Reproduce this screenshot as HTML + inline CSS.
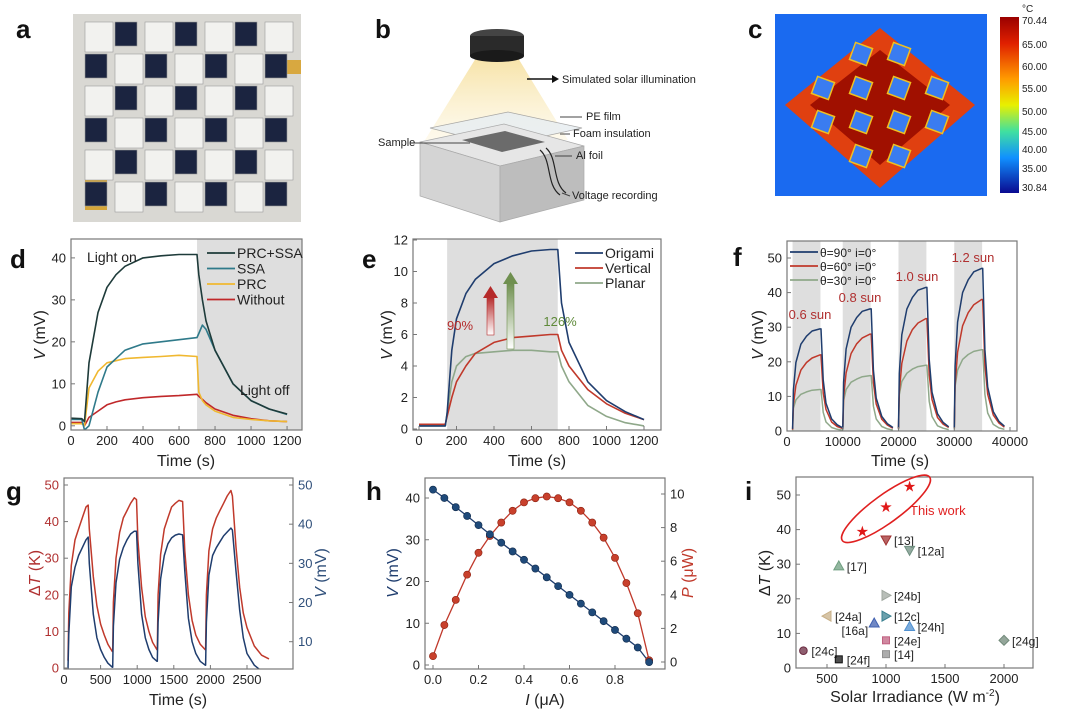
<!DOCTYPE html>
<html><head><meta charset="utf-8"><style>
html,body{margin:0;padding:0;background:#fff;}
svg{display:block;font-family:"Liberation Sans",Arial,sans-serif;}
</style></head><body>
<svg id="fig" width="1080" height="713" viewBox="0 0 1080 713" xmlns="http://www.w3.org/2000/svg">
<defs>
<linearGradient id="cone" x1="0" y1="0" x2="0" y2="1"><stop offset="0" stop-color="#f7e3a8"/><stop offset="1" stop-color="#fdf6e0" stop-opacity="0.6"/></linearGradient>
<linearGradient id="cbar" x1="0" y1="0" x2="0" y2="1"><stop offset="0" stop-color="#9a0000"/><stop offset="0.15" stop-color="#e02000"/><stop offset="0.35" stop-color="#ff9a00"/><stop offset="0.5" stop-color="#e8f000"/><stop offset="0.65" stop-color="#40e0a0"/><stop offset="0.8" stop-color="#1090ff"/><stop offset="1" stop-color="#0a0a90"/></linearGradient>
<linearGradient id="redArr" x1="0" y1="0" x2="0" y2="1"><stop offset="0" stop-color="#b52a2a"/><stop offset="1" stop-color="#fff"/></linearGradient>
<linearGradient id="grnArr" x1="0" y1="0" x2="0" y2="1"><stop offset="0" stop-color="#6f8f4f"/><stop offset="1" stop-color="#fff"/></linearGradient>
</defs>

<!-- panel labels -->
<g font-weight="bold" font-size="26" fill="#111">
<text x="16" y="38">a</text>
<text x="375" y="38">b</text>
<text x="748" y="38">c</text>
<text x="10" y="268">d</text>
<text x="362" y="268">e</text>
<text x="733" y="266">f</text>
<text x="6" y="500">g</text>
<text x="366" y="500">h</text>
<text x="745" y="500">i</text>
</g>

<!-- panel a photo -->
<g>
<rect x="73" y="14" width="228" height="208" fill="#d9d8d3"/>
<rect x="285" y="60" width="16" height="14" fill="#d8a840"/>
<rect x="85" y="180" width="22" height="30" fill="#d4a53a"/>
<g id="origami"></g>
</g>

<!-- panel b schematic -->
<g font-size="11" fill="#222">
<polygon points="476,58 518,58 568,140 425,140" fill="url(#cone)"/>
<ellipse cx="497" cy="36" rx="27" ry="7" fill="#444"/>
<rect x="470" y="36" width="54" height="20" fill="#2a2a2a"/>
<ellipse cx="497" cy="56" rx="27" ry="6" fill="#1a1a1a"/>
<line x1="527" y1="79" x2="552" y2="79" stroke="#111" stroke-width="1.5"/>
<polygon points="552,75 559,79 552,83" fill="#111"/>
<text x="562" y="83">Simulated solar illumination</text>
<polygon points="430,128 508,112 582,128 500,146" fill="#e8eef2" stroke="#999" stroke-width="0.7" opacity="0.85"/>
<polygon points="420,142 504,124 584,146 500,166" fill="#e6e6e6" stroke="#aaa" stroke-width="0.7"/>
<polygon points="420,142 500,166 500,222 420,196" fill="#d4d4d4" stroke="#aaa" stroke-width="0.7"/>
<polygon points="500,166 584,146 584,200 500,222" fill="#bdbdbd" stroke="#aaa" stroke-width="0.7"/>
<polygon points="462,140 505,131 545,142 502,152" fill="#6b6b6b"/>
<path d="M540,150 C552,160 546,185 560,195" stroke="#222" fill="none" stroke-width="1.2"/>
<path d="M546,148 C558,158 552,183 566,193" stroke="#222" fill="none" stroke-width="1.2"/>
<line x1="560" y1="117" x2="582" y2="117" stroke="#444"/><text x="586" y="120">PE film</text>
<line x1="560" y1="134" x2="570" y2="134" stroke="#444"/><text x="573" y="137">Foam insulation</text>
<line x1="410" y1="143" x2="470" y2="143" stroke="#444"/><text x="378" y="146">Sample</text>
<line x1="555" y1="156" x2="572" y2="156" stroke="#444"/><text x="576" y="159">Al foil</text>
<line x1="562" y1="193" x2="570" y2="196" stroke="#444"/><text x="572" y="199">Voltage recording</text>
</g>

<!-- panel c thermal -->
<g>
<rect x="775" y="14" width="212" height="182" fill="#1a6af0"/>
<g id="thermal"></g>
<rect x="1000" y="17" width="19" height="176" fill="url(#cbar)"/>
<g font-size="10" fill="#222">
<text x="1022" y="12">°C</text>
<text x="1022" y="24">70.44</text><text x="1022" y="48">65.00</text><text x="1022" y="70">60.00</text>
<text x="1022" y="92">55.00</text><text x="1022" y="115">50.00</text><text x="1022" y="135">45.00</text>
<text x="1022" y="153">40.00</text><text x="1022" y="172">35.00</text><text x="1022" y="191">30.84</text>
</g>
</g>
<g id="charts"></g>
</svg>
<script>
// ---------- data: panel d ----------
const dTime=[0,60,75,100,150,200,250,300,400,500,600,700,710,730,750,800,900,1000,1100,1200];
const dPrcSsa=[1.8,1.7,1,15,27,33,36,38,40,40.5,40.8,40.8,36,30,25,18,10,6,4,2.8];
const dSsa=[1.5,1.5,-1,0,8,14,16,18,19.5,20,20.5,21,22,24,23,18,10,6,4,2.7];
const dPrc=[0.5,0.5,0,9,13,15,15.5,16,16.3,16.5,16.8,16.5,8,6,5,3.5,2,1.5,1.2,1];
const dWithout=[0.8,0.8,0,2,3.5,5,5.7,6.2,6.7,7,7.2,7.5,7,6.3,5.5,4,2.5,1.7,1.2,1];
// ---------- data: panel e ----------
const eTime=[0,140,150,175,200,250,300,400,500,600,700,740,760,800,900,1000,1100,1200];
const eOrigami=[0.2,0.2,1,5,7,8.6,9.5,10.5,11,11.3,11.4,11.4,8,5.5,3,1.8,1.1,0.6];
const eVertical=[0.3,0.3,0.8,2,3,4,4.8,5.5,5.8,5.9,6,6,5,4,2.5,1.6,1,0.6];
const ePlanar=[0.2,0.2,1,3,4,4.6,4.8,4.9,5,5,4.9,4.9,4,3,1.5,0.8,0.4,0.2];
// ---------- data: panel f ----------
const fCycleStart=[1000,10000,20000,30000];
const fOffset=[0,150,600,1500,2500,3500,4900,5100,5500,6000,7000,8000,9000];
const f90=[[0.6,11.8,19.8,25.1,27.4,28.9,29.5,29.5,14.8,8,3.5,1.8,0.9],[0.7,14.1,23.7,30,32.8,34.6,35.3,35.3,17.6,9.5,4.2,2.1,1.0],[0.8,16.6,27.8,35.3,38.6,40.7,41.5,41.5,20.7,11.2,5,2.5,1.2],[0.9,18.8,31.5,40,43.7,46,47,47,23.5,12.7,5.6,2.8,1.4]];
const f60=[[0.4,7.7,13.2,17.6,19.8,21.1,22,22,11,6.2,2.6,1.3,0.7],[0.6,9.8,16.8,22.4,25.2,26.9,28,28,14,7.8,3.4,1.7,0.8],[0.7,11.4,19.5,26,29.3,31.2,32.5,32.5,16.3,9.1,3.9,2,1],[0.8,13.3,22.8,30.4,34.2,36.5,38,38,19,10.6,4.6,2.3,1.1]];
const f30=[[0.2,6.6,9,10.6,11.3,11.8,12,12,5.4,2.6,1,0.5,0.2],[0.3,8.8,12,14.1,15,15.7,16,16,7.2,3.5,1.3,0.6,0.3],[0.4,10.5,14.3,16.7,17.9,18.6,19,19,8.6,4.2,1.5,0.8,0.4],[0.5,12.9,17.6,20.7,22.1,23,23.5,23.5,10.6,5.2,1.9,0.9,0.5]];
const fSunLabels=['0.6 sun','0.8 sun','1.0 sun','1.2 sun'];
// ---------- data: panel g ----------
const gTime=[55,65,100,150,200,250,300,330,345,400,450,500,550,600,660, 665,675,710,760,810,860,910,960,990,1010,1060,1110,1160,1210,1270, 1275,1285,1320,1370,1420,1470,1520,1570,1620,1650,1700,1750,1800,1860,1930, 1935,1945,1980,2030,2080,2130,2180,2230,2280,2300,2350,2400,2450,2500,2600,2700,2800];
const gDeltaT=[2,15,28,35,38,41,44,44.5,38,25,17,12,9,6.5,4.5, 4.5,18,30,37,41,43,45,46.5,46,35,22,14,10,7,5, 5,20,31,38,41,44,45,45.8,45.5,32,20,13,9,6.5,5, 5,20,32,38,41,43,45,47,48.5,47,33,22,15,11,6,3.5,2.5];
const gVolt=[3,12,24,29,32,34,36,36.7,30,17,11,8,6,4.5,3.5, 3.5,14,25,31,34,36,37.5,38.2,38.2,30,17,11,8,6,5, 5,15,26,32,35,36.5,37.2,37.5,37.3,28,16,10,7,5,4, 4,15,27,32,34,35.5,37,38,39,38.5,28,18,11,7,4,2.5,1.5];
// ---------- data: panel h ----------
const hCurrent=[0,0.05,0.1,0.15,0.2,0.25,0.3,0.35,0.4,0.45,0.5,0.55,0.6,0.65,0.7,0.75,0.8,0.85,0.9,0.95];
const hVolt=[42,40,37.8,35.7,33.5,31.3,29.3,27.2,25.2,23.1,21,18.9,16.8,14.7,12.6,10.5,8.4,6.3,4.2,0.7];
const hPower=[0.35,2.2,3.7,5.2,6.5,7.5,8.3,9.0,9.5,9.75,9.85,9.75,9.5,9.0,8.3,7.4,6.2,4.7,2.9,0.1];
// ---------- data: panel i ----------
const iThisX=[800,1000,1200];
const iThisY=[39.5,46.5,52.5];
const iRefNames=['[13]','[12a]','[17]','[24b]','[24a]','[12c]','[16a]','[24h]','[24e]','[14]','[24c]','[24f]','[24g]'];
const iRefX=[1000,1200,600,1000,500,1000,900,1200,1000,1000,300,600,2000];
const iRefY=[37,34,29.5,21,15,15,13,12,8,4,5,2.5,8];
const iRefShape=['tdown','tdown','tup','tright','tleft','tright','tup','tup','sq','sq','circ','sq','diam'];
const iRefColor=['#a03030','#6f8f80','#6f9f80','#a0a8a0','#c8b088','#3a8090','#4060b0','#5090d0','#c06080','#909090','#6a2a40','#111','#708878'];

const NS='http://www.w3.org/2000/svg';
const root=document.getElementById('charts');
function mk(tag,attrs,parent){const e=document.createElementNS(NS,tag);for(const k in attrs)e.setAttribute(k,attrs[k]);(parent||root).appendChild(e);return e;}
function scale(d0,d1,p0,p1){return v=>p0+(v-d0)*(p1-p0)/(d1-d0);}
function txt(parent,x,y,s,size,fill,anchor,extra){const t=mk('text',Object.assign({x:x,y:y,'font-size':size,fill:fill||'#222','text-anchor':anchor||'middle'},extra||{}),parent);t.textContent=s;return t;}
function pathOf(xs,ys,sx,sy){return xs.map((v,i)=>(i?'L':'M')+sx(v).toFixed(1)+','+sy(ys[i]).toFixed(1)).join('');}

function frame(g,box){const r=mk('rect',{x:box.l,y:box.t,width:box.r-box.l,height:box.b-box.t,fill:'none',stroke:'#777','stroke-width':1.2},g);

}
function xAxis(g,box,sx,ticks,fmt){ticks.forEach(v=>{const x=sx(v);mk('line',{x1:x,x2:x,y1:box.b,y2:box.b-4,stroke:'#777'},g);
const t=txt(g,x,box.b+15,fmt?fmt(v):String(v),13,'#222');

});}
function yAxis(g,box,sy,ticks,side,color){ticks.forEach(v=>{const y=sy(v);const x=side==='r'?box.r:box.l;mk('line',{x1:x,x2:side==='r'?x-4:x+4,y1:y,y2:y,stroke:'#777'},g);
const t=txt(g,side==='r'?x+5:x-5,y+4.5,String(v),13,color||'#222',side==='r'?'start':'end');

});}
function yTitle(g,x,y,parts,color){const t=mk('text',{x:x,y:y,'font-size':16,fill:color||'#222','text-anchor':'middle',transform:'rotate(-90 '+x+' '+y+')'},g);


parts.forEach(p=>{const s=mk('tspan',p[1]?{'font-style':'italic'}:{},t);s.textContent=p[0];});return t;}
function line(g,xs,ys,sx,sy,color,w,name){const p=mk('path',{d:pathOf(xs,ys,sx,sy),fill:'none',stroke:color,'stroke-width':w||1.6,'stroke-linejoin':'round'},g);

return p;}
function legend(g,x,y,dy,items,size){items.forEach((it,i)=>{mk('line',{x1:x,x2:x+28,y1:y+i*dy,y2:y+i*dy,stroke:it[1],'stroke-width':1.8},g);
const t=txt(g,x+30,y+i*dy+5,it[0],size||14,'#222','start');

});}
function clip(id,box){const c=mk('clipPath',{id:id});mk('rect',{x:box.l,y:box.t,width:box.r-box.l,height:box.b-box.t},c);}

// ---------- panel d ----------
(function(){const g=mk('g',{});


const box={l:71,r:302,t:239,b:430};const sx=scale(0,1283,box.l,box.r),sy=scale(-1,44.5,box.b,box.t);
clip('cd',box);
mk('rect',{x:sx(700),y:box.t,width:box.r-sx(700),height:box.b-box.t,fill:'#dedede'},g);
const cg=mk('g',{'clip-path':'url(#cd)'},g);
line(cg,dTime,dWithout,sx,sy,'#c0282a',1.6,'without-line');
line(cg,dTime,dPrc,sx,sy,'#f0b830',1.6,'prc-line');
line(cg,dTime,dSsa,sx,sy,'#2f7a8a',1.6,'ssa-line');
line(cg,dTime,dPrcSsa,sx,sy,'#1e3b3a',1.6,'prc-ssa-line');
frame(g,box);xAxis(g,box,sx,[0,200,400,600,800,1000,1200]);yAxis(g,box,sy,[0,10,20,30,40]);
yTitle(g,45,335,[['V',1],[' (mV)']]);
const xt=txt(g,186,466,'Time (s)',16);


txt(g,87,262,'Light on',14,'#222','start');txt(g,240,395,'Light off',14,'#222','start');
legend(g,207,253,15.5,[['PRC+SSA','#1e3b3a'],['SSA','#2f7a8a'],['PRC','#f0b830'],['Without','#c0282a']]);
})();

// ---------- panel e ----------
(function(){const g=mk('g',{});


const box={l:413,r:661,t:239,b:430};const sx=scale(0,1200,419,644),sy=scale(0,12,429,240);
clip('ce',box);
mk('rect',{x:sx(150),y:box.t,width:sx(740)-sx(150),height:box.b-box.t,fill:'#dedede'},g);
const cg=mk('g',{'clip-path':'url(#ce)'},g);
line(cg,eTime,ePlanar,sx,sy,'#8fa88a',1.6,'planar-line');
line(cg,eTime,eVertical,sx,sy,'#c0392b',1.6,'vertical-line');
line(cg,eTime,eOrigami,sx,sy,'#1f3d6e',1.6,'origami-line');
frame(g,box);xAxis(g,box,sx,[0,200,400,600,800,1000,1200]);yAxis(g,box,sy,[0,2,4,6,8,10,12]);
yTitle(g,392,335,[['V',1],[' (mV)']]);
const xt=txt(g,537,466,'Time (s)',16);


mk('rect',{x:487,y:297,width:7,height:38,fill:'url(#redArr)',stroke:'#b52a2a','stroke-width':0.6},g);
mk('polygon',{points:'483,298 498,298 490.5,286',fill:'#b52a2a'},g);
mk('rect',{x:507,y:283,width:7,height:66,fill:'url(#grnArr)',stroke:'#6f8f4f','stroke-width':0.6},g);
mk('polygon',{points:'503,284 518,284 510.5,272',fill:'#6f8f4f'},g);
txt(g,460,330,'90%',13,'#b52a2a');txt(g,560,326,'126%',13,'#5f8a3a');
legend(g,575,253,15,[['Origami','#1f3d6e'],['Vertical','#c0392b'],['Planar','#8fa88a']]);
})();

// ---------- panel f ----------
(function(){const g=mk('g',{});


const box={l:787,r:1017,t:241,b:431};const sx=scale(0,40000,787,1010),sy=scale(0,50,431,258);
clip('cf',box);
fCycleStart.forEach(s=>{mk('rect',{x:sx(s),y:box.t,width:sx(s+5000)-sx(s),height:box.b-box.t,fill:'#dedede'},g);});
const cg=mk('g',{'clip-path':'url(#cf)'},g);
[[f30,'#8fa88a','theta30-line'],[f60,'#c0392b','theta60-line'],[f90,'#1f3d6e','theta90-line']].forEach(s=>{
fCycleStart.forEach((c,k)=>{const xs=fOffset.map(o=>c+o);line(cg,xs,s[0][k],sx,sy,s[1],1.5,s[2]);});});
frame(g,box);xAxis(g,box,sx,[0,10000,20000,30000,40000]);yAxis(g,box,sy,[0,10,20,30,40,50]);
yTitle(g,763,335,[['V',1],[' (mV)']]);
const xt=txt(g,900,466,'Time (s)',16);


const lx=[[810,319],[860,302],[917,281],[973,262]];
fSunLabels.forEach((s,i)=>{const t=txt(g,lx[i][0],lx[i][1],s,13,'#b03030');

});
legend(g,790,252,14,[['θ=90° i=0°','#1f3d6e'],['θ=60° i=0°','#c0392b'],['θ=30° i=0°','#8fa88a']],12);
})();

// ---------- panel g ----------
(function(){const g=mk('g',{});


const box={l:64,r:293,t:478,b:669};const sx=scale(0,2500,64,247),sy=scale(0,50,668,485),sv=scale(10,50,641.7,485);
clip('cg',box);
const cg=mk('g',{'clip-path':'url(#cg)'},g);
line(cg,gTime,gDeltaT,sx,sy,'#c0392b',1.5,'delta-t-line');
line(cg,gTime,gVolt,sx,sv,'#1f3d6e',1.5,'voltage-line');
frame(g,box);xAxis(g,box,sx,[0,500,1000,1500,2000,2500]);yAxis(g,box,sy,[0,10,20,30,40,50],'l','#b03030');yAxis(g,box,sv,[10,20,30,40,50],'r','#2f4f7a');
yTitle(g,40,573,[['Δ'],['T',1],[' (K)']],'#b03030');
const yr=mk('text',{x:326,y:573,'font-size':16,fill:'#2f4f7a','text-anchor':'middle',transform:'rotate(-90 326 573)'},g);


const a=mk('tspan',{'font-style':'italic'},yr);a.textContent='V';const b=mk('tspan',{},yr);b.textContent=' (mV)';
const xt=txt(g,178,705,'Time (s)',16);


})();

// ---------- panel h ----------
(function(){const g=mk('g',{});


const box={l:425,r:665,t:478,b:669};const sx=scale(0,0.8,433,615),sy=scale(0,40,665,498),sp=scale(0,10,662,494);
line(g,hCurrent,hPower,sx,sp,'#c0392b',1.3,'power-line');
line(g,hCurrent,hVolt,sx,sy,'#1f3d6e',1.3,'voltage-line');
hCurrent.forEach((c,i)=>{const p=mk('circle',{cx:sx(c),cy:sp(hPower[i]),r:3.6,fill:'#c8402c',stroke:'#8a2010','stroke-width':0.6},g);


const q=mk('circle',{cx:sx(c),cy:sy(hVolt[i]),r:3.6,fill:'#1f4a7a',stroke:'#102a4a','stroke-width':0.6},g);

});
frame(g,box);xAxis(g,box,sx,[0,0.2,0.4,0.6,0.8],v=>v.toFixed(1));yAxis(g,box,sy,[0,10,20,30,40],'l','#222');yAxis(g,box,sp,[0,2,4,6,8,10],'r','#222');
yTitle(g,398,573,[['V',1],[' (mV)']],'#1f3d6e');
const yr=mk('text',{x:693,y:573,'font-size':16,fill:'#c0392b','text-anchor':'middle',transform:'rotate(-90 693 573)'},g);


const a=mk('tspan',{'font-style':'italic'},yr);a.textContent='P';const b=mk('tspan',{},yr);b.textContent=' (μW)';
const xt=mk('text',{x:545,y:705,'font-size':16,fill:'#222','text-anchor':'middle'},g);


const c1=mk('tspan',{'font-style':'italic'},xt);c1.textContent='I';const c2=mk('tspan',{},xt);c2.textContent=' (μA)';
})();

// ---------- panel i ----------
(function(){const g=mk('g',{});


const box={l:796,r:1033,t:477,b:668};const sx=scale(500,2000,827,1004),sy=scale(0,50,668,495);
frame(g,box);xAxis(g,box,sx,[500,1000,1500,2000]);yAxis(g,box,sy,[0,10,20,30,40,50]);
yTitle(g,770,573,[['Δ'],['T',1],[' (K)']]);
const xt=mk('text',{x:915,y:702,'font-size':16,fill:'#222','text-anchor':'middle'},g);


xt.textContent='Solar Irradiance (W m';const sup=mk('tspan',{dy:-6,'font-size':10},xt);sup.textContent='-2';const cl=mk('tspan',{dy:6},xt);cl.textContent=')';
const ex=sx(1000),ey=sy(46);
mk('ellipse',{cx:ex,cy:ey,rx:54,ry:14,fill:'none',stroke:'#e02020','stroke-width':1.6,transform:'rotate(-36 '+ex+' '+ey+')'},g);
iThisX.forEach((x,i)=>{const s=mk('text',{x:sx(x),y:sy(iThisY[i])+5,'font-size':15,fill:'#e01818','text-anchor':'middle'},g);


s.textContent='★';});
txt(g,910,515,'This work',13,'#e02020','start');
iRefX.forEach((xv,i)=>{const x=sx(xv),y=sy(iRefY[i]),c=iRefColor[i],sh=iRefShape[i];let m;const r=5;
if(sh==='tdown')m=mk('polygon',{points:(x-r)+','+(y-4)+' '+(x+r)+','+(y-4)+' '+x+','+(y+5)},g);
else if(sh==='tup')m=mk('polygon',{points:(x-r)+','+(y+4)+' '+(x+r)+','+(y+4)+' '+x+','+(y-5)},g);
else if(sh==='tright')m=mk('polygon',{points:(x-4)+','+(y-r)+' '+(x-4)+','+(y+r)+' '+(x+5)+','+y},g);
else if(sh==='tleft')m=mk('polygon',{points:(x+4)+','+(y-r)+' '+(x+4)+','+(y+r)+' '+(x-5)+','+y},g);
else if(sh==='sq')m=mk('rect',{x:x-3.5,y:y-3.5,width:7,height:7},g);
else if(sh==='circ')m=mk('circle',{cx:x,cy:y,r:3.8},g);
else m=mk('polygon',{points:(x-5)+','+y+' '+x+','+(y-5)+' '+(x+5)+','+y+' '+x+','+(y+5)},g);
m.setAttribute('fill',c);m.setAttribute('stroke',c);m.setAttribute('fill-opacity','0.75');


const left=iRefNames[i]==='[16a]';
const t=txt(g,left?x-6:x+8,y+5,iRefNames[i],12,'#222',left?'end':'start');
if(left)t.setAttribute('y',y+12);

});
})();

// ---------- decorative images ----------
(function(){const o=document.getElementById('origami');
for(let r=0;r<6;r++)for(let c=0;c<7;c++){const x=85+c*30,y=22+r*32;const dark=(r+c)%2===1;
const e=document.createElementNS(NS,'rect');e.setAttribute('x',x);e.setAttribute('y',y);e.setAttribute('width',dark?22:28);e.setAttribute('height',dark?24:30);
e.setAttribute('fill',dark?'#1b2440':'#f2f2ef');e.setAttribute('stroke','#9a9a9a');e.setAttribute('stroke-width','0.6');o.appendChild(e);}
const th=document.getElementById('thermal');
const dia=document.createElementNS(NS,'polygon');dia.setAttribute('points','880,28 975,105 880,188 785,105');dia.setAttribute('fill','#e04010');th.appendChild(dia);
const dia2=document.createElementNS(NS,'polygon');dia2.setAttribute('points','880,50 950,105 880,165 810,105');dia2.setAttribute('fill','#a01000');th.appendChild(dia2);
for(let r=-2;r<=2;r++)for(let c=-2;c<=2;c++){if((r+c)%2===0)continue;const cx=880+(c-r)*19,cy=105+(c+r)*17;
const q=document.createElementNS(NS,'rect');q.setAttribute('x',cx-9);q.setAttribute('y',cy-9);q.setAttribute('width',18);q.setAttribute('height',18);
q.setAttribute('fill','#3a7cf0');q.setAttribute('stroke','#f0c020');q.setAttribute('stroke-width','1.5');q.setAttribute('transform','rotate(20 '+cx+' '+cy+')');th.appendChild(q);}
})();
</script>
</body></html>
